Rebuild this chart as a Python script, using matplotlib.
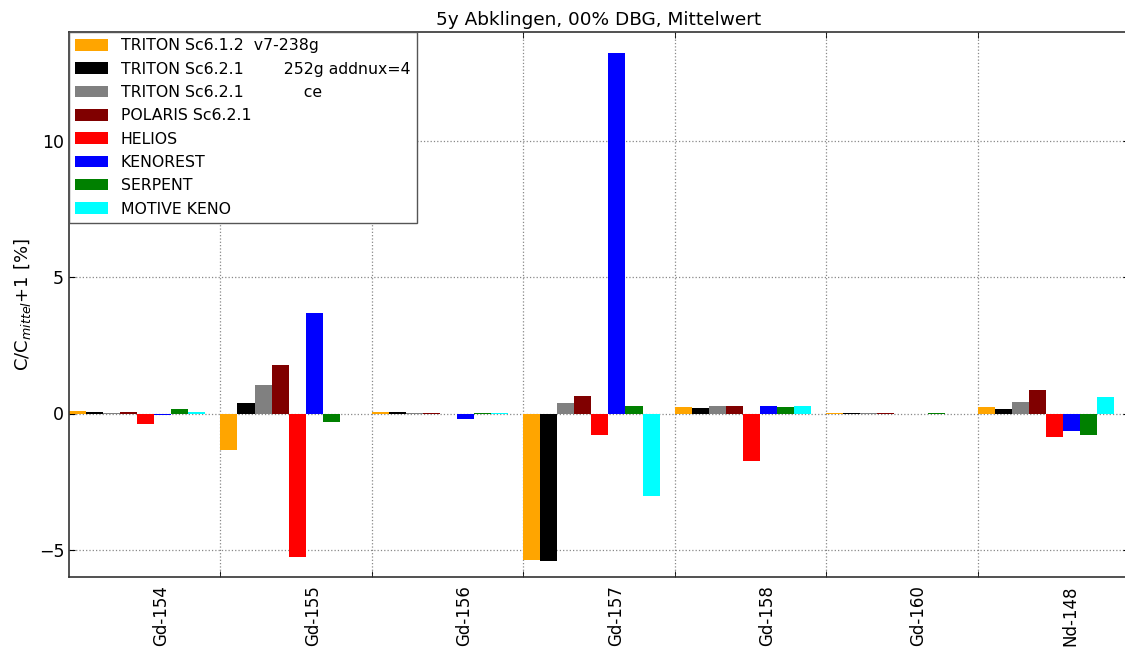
import numpy as np
import matplotlib
matplotlib.use("Agg")
import matplotlib.pyplot as plt

categories = ["Gd-154", "Gd-155", "Gd-156", "Gd-157", "Gd-158", "Gd-160", "Nd-148"]

series_labels = [
    "TRITON Sc6.1.2  v7-238g",
    "TRITON Sc6.2.1        252g addnux=4",
    "TRITON Sc6.2.1            ce",
    "POLARIS Sc6.2.1",
    "HELIOS",
    "KENOREST",
    "SERPENT",
    "MOTIVE KENO",
]
series_colors = ["#FFA500", "#000000", "#808080", "#800000", "#FF0000", "#0000FF", "#008000", "#00FFFF"]

triton_612 = [0.08, -1.33, 0.07, -5.36, 0.24, 0.02, 0.23]
triton_621_252g = [0.06, 0.37, 0.05, -5.40, 0.20, 0.01, 0.16]
triton_621_ce = [0.01, 1.05, 0.01, 0.37, 0.27, 0.01, 0.43]
polaris_621 = [0.04, 1.77, 0.02, 0.64, 0.27, 0.02, 0.88]
helios = [-0.37, -5.26, 0.0, -0.78, -1.76, 0.0, -0.87]
kenorest = [-0.07, 3.70, -0.21, 13.23, 0.27, -0.03, -0.65]
serpent = [0.15, -0.30, 0.02, 0.26, 0.24, 0.02, -0.79]
motive_keno = [0.07, 0.0, 0.02, -3.02, 0.26, 0.0, 0.60]

series_values = [triton_612, triton_621_252g, triton_621_ce, polaris_621,
                 helios, kenorest, serpent, motive_keno]

fig = plt.figure(figsize=(11.25, 6.51), dpi=100)
ax = fig.add_axes([69 / 1125, 74 / 651, 1060 / 1125, 545 / 651])

n = len(categories)
ind = np.arange(n)
width = 0.1125
for k, (vals, lab, col) in enumerate(zip(series_values, series_labels, series_colors)):
    ax.bar(ind + k * width, vals, width, align="edge", color=col, label=lab, linewidth=0)

ax.set_xlim(0, n)
ax.set_ylim(-6, 14)
ax.set_yticks([-5, 0, 5, 10])
ax.set_xticks(ind + 0.61)
ax.set_xticklabels(categories, rotation=90, fontsize=12)
ax.set_xticks(np.arange(1, n), minor=True)
ax.tick_params(axis="x", which="major", length=0, pad=6)
ax.tick_params(axis="x", which="minor", length=4, direction="in", top=True)
ax.tick_params(axis="y", labelsize=12.5, direction="in", length=4, right=True)
ax.grid(axis="x", which="minor", color="#888888", linestyle=":", linewidth=0.9)
ax.grid(axis="y", which="major", color="#888888", linestyle=":", linewidth=0.9)
ax.set_axisbelow(True)

for sp in ax.spines.values():
    sp.set_color("#333333")
    sp.set_linewidth(1.2)

ax.set_title("5y Abklingen, 00% DBG, Mittelwert", fontsize=13.3, pad=5)
ax.set_ylabel("C/C$_{mittel}$+1 [%]", fontsize=13, labelpad=4)

leg = ax.legend(loc="upper left", borderaxespad=0, fontsize=11.3, handlelength=2.1,
                handleheight=0.75, labelspacing=0.53, handletextpad=0.8,
                fancybox=False, framealpha=1, borderpad=0.4)
leg.get_frame().set_edgecolor("#555555")
leg.get_frame().set_linewidth(1.0)

fig.savefig("out.png", dpi=100)
